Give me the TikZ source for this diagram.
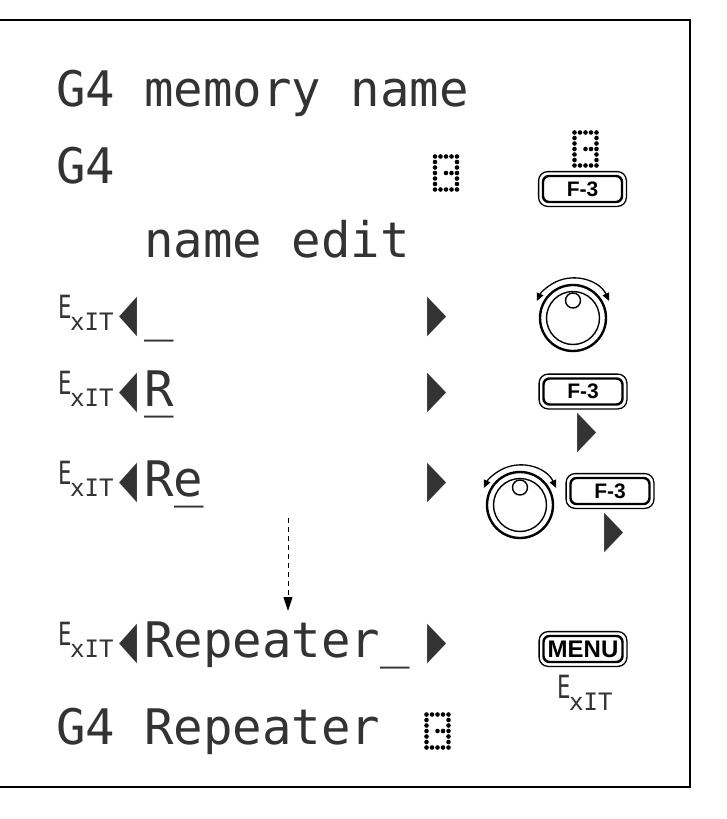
\documentclass[tikz,border=0pt]{standalone}
\usepackage{fontspec}
\setmainfont{Liberation Sans}
\newfontfamily\lcdfam{DejaVu Sans Mono}
\newfontfamily\symfam{DejaVu Sans}
\usetikzlibrary{arrows.meta,fit}
\newcommand\lcdfont{\lcdfam\fontsize{49}{49}\selectfont}
\newcommand\trifont{\symfam\fontsize{52}{52}\selectfont}
\newcommand\btnfont{\bfseries\fontsize{21}{21}\selectfont}
\newcommand\rtri{\scalebox{0.48}[1]{▶}}
\newcommand\ltri{\scalebox{0.45}[1]{◀}}
\tikzset{
  lcd/.style={anchor=base west, inner sep=0pt, outer sep=0pt, font=\lcdfont, text=black!80},
  tri/.style={anchor=base, inner sep=0pt, outer sep=0pt, font=\trifont, text=black!80},
  lcddot/.style={fill=black},
  btnin/.style={draw, line width=2.4pt, rounded corners=6pt, minimum width=79pt,
    minimum height=26pt, inner sep=0pt, font=\btnfont},
  btnout/.style={draw, line width=1.3pt, rounded corners=9pt, inner sep=3.2pt},
  frameline/.style={line width=1.6pt},
  flow/.style={line width=1pt, dash pattern=on 5pt off 4pt, -{Triangle[length=14pt,width=9pt]}},
  exitsym/.pic={
    \node[anchor=base west, inner sep=0pt, text=black!80, font=\lcdfam\fontsize{32}{32}\selectfont] (-e) at (0,-12) {\scalebox{0.7}[1]{E}};
    \node[anchor=base west, inner sep=0pt, text=black!80, font=\lcdfam\fontsize{24}{24}\selectfont] (-x) at (12,0) {xIT};
  },
  blk/.pic={
    \foreach \c in {0,...,4} {
      \fill[lcddot] (\c*5.5,0) circle[radius=2.3];
      \fill[lcddot] (\c*5.5,33) circle[radius=2.3];
    }
    \foreach \r in {1,...,5} {
      \fill[lcddot] (0,\r*5.5) circle[radius=2.3];
      \fill[lcddot] (22,\r*5.5) circle[radius=2.3];
    }
    \fill[lcddot] (11,16.5) circle[radius=2.3];
    \fill[lcddot] (16.5,16.5) circle[radius=2.3];
  },
  knob/.pic={
    \draw[line width=2.4pt] (0,0) circle[radius=33];
    \draw[line width=1.4pt] (0,0) circle[radius=26.5];
    \draw[line width=1.4pt, fill=white] (0,-17.5) circle[radius=7.5];
    \draw[line width=1.3pt, {Triangle[length=8pt,width=7pt]}-{Triangle[length=8pt,width=7pt]}]
      (-25:40) arc[start angle=-25, end angle=-155, radius=40];
  }
}
\begin{document}
\begin{tikzpicture}[x=1pt,y=-1pt]
\useasboundingbox (0,0) rectangle (727,819);
\draw[frameline] (0,20) -- (690,20) -- (690,787) -- (0,787);

% row 1
\node[lcd] (r1) at (56,106) {G4 memory name};
% row 2
\node[lcd] (r2) at (56,183) {G4};
\pic (b2) at (435,156.5) {blk};
% row 3
\node[lcd] (r3) at (144.5,257) {name edit};
% row 4
\pic (x4) at (58,330) {exitsym};
\node[tri] (l4) at (128,330) {\ltri};
\node[lcd] (c4) at (144.5,330) {\_};
\node[tri] (p4) at (437,330) {\rtri};
% row 5
\pic (x5) at (58,406) {exitsym};
\node[tri] (l5) at (128,406) {\ltri};
\node[lcd] (c5) at (144.5,406) {R};
\node[lcd] (u5) at (144.5,406) {\_};
\node[tri] (p5) at (437,406) {\rtri};
% row 6
\pic (x6) at (58,496) {exitsym};
\node[tri] (l6) at (128,496) {\ltri};
\node[lcd] (c6) at (144.5,496) {Re};
\node[lcd] (u6) at (174,496) {\_};
\node[tri] (p6) at (437,496) {\rtri};
% arrow
\coordinate (as) at (288,518);
\coordinate (ae) at (288,611);
\draw[flow] (as) -- (ae);
% row 7
\pic (x7) at (58,657) {exitsym};
\node[tri] (l7) at (128,657) {\ltri};
\node[lcd] (c7) at (144.5,657) {Repeater\_};
\node[tri] (p7) at (437,657) {\rtri};
% row 8
\node[lcd] (r8) at (56,744) {G4 Repeater};
\pic (b8) at (426.5,714.5) {blk};

% right column
\pic (b1) at (574.5,132.5) {blk};
\node[btnin] (f1) at (582.5,189) {F-3};
\node[btnout, fit=(f1)] (f1o) {};

\pic (k1) at (573,318) {knob};

\node[btnin] (f2) at (583,391.5) {F-3};
\node[btnout, fit=(f2)] (f2o) {};
\node[tri] (p2) at (587.5,446) {\rtri};

\pic (k2) at (520,505) {knob};
\node[btnin] (f3) at (610,491) {F-3};
\node[btnout, fit=(f3)] (f3o) {};
\node[tri] (p3) at (614,546) {\rtri};

\node[btnin, font=\bfseries\fontsize{24}{24}\selectfont] (m1) at (583,649) {MENU};
\node[btnout, fit=(m1)] (m1o) {};
\pic (xm) at (557,710) {exitsym};
\end{tikzpicture}
\end{document}
